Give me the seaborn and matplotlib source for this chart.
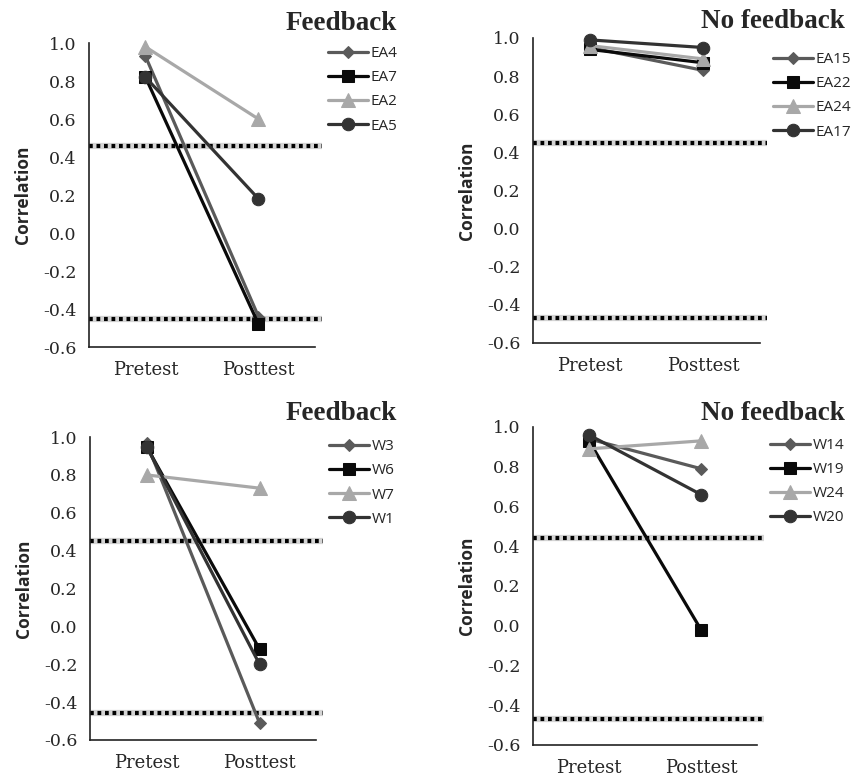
import pandas as pd
import matplotlib.pyplot as plt
import seaborn as sns

sns.set_style("white")
plt.rcParams["axes.unicode_minus"] = False

# Data
tests = ["Pretest", "Posttest"]

p1_names = ["EA4", "EA7", "EA2", "EA5"]
p1_pre = [0.93, 0.82, 0.98, 0.82]
p1_post = [-0.44, -0.48, 0.60, 0.18]
p1_limits = [0.46, -0.45]

p2_names = ["EA15", "EA22", "EA24", "EA17"]
p2_pre = [0.95, 0.94, 0.96, 0.99]
p2_post = [0.83, 0.87, 0.89, 0.95]
p2_limits = [0.45, -0.47]

p3_names = ["W3", "W6", "W7", "W1"]
p3_pre = [0.97, 0.95, 0.80, 0.95]
p3_post = [-0.51, -0.12, 0.73, -0.20]
p3_limits = [0.45, -0.46]

p4_names = ["W14", "W19", "W24", "W20"]
p4_pre = [0.94, 0.93, 0.89, 0.96]
p4_post = [0.79, -0.02, 0.93, 0.66]
p4_limits = [0.44, -0.47]

colors = ["#5a5a5a", "#0a0a0a", "#a8a8a8", "#333333"]
markers = ["D", "s", "^", "o"]
msizes = [6, 9, 10, 9]

panels = [
    ("Feedback", p1_names, p1_pre, p1_post, p1_limits, [0.1036, 0.5551, 0.2631, 0.3897], (0.462, 0.9705), (1.03, 1.01)),
    ("No feedback", p2_names, p2_pre, p2_post, p2_limits, [0.6205, 0.5603, 0.2643, 0.3910], (0.984, 0.972), (1.03, 0.974)),
    ("Feedback", p3_names, p3_pre, p3_post, p3_limits, [0.1048, 0.0513, 0.2631, 0.3884], (0.462, 0.4705), (1.03, 1.013)),
    ("No feedback", p4_names, p4_pre, p4_post, p4_limits, [0.6205, 0.0449, 0.2608, 0.4077], (0.984, 0.4705), (1.03, 0.985)),
]

fig = plt.figure(figsize=(8.59, 7.80), dpi=100)

for title, names, pre, post, limits, rect, tpos, lpos in panels:
    ax = fig.add_axes(rect)
    df = pd.DataFrame({
        "subject": names * 2,
        "test": [tests[0]] * len(names) + [tests[1]] * len(names),
        "r": pre + post,
    })

    # threshold lines (dotted, with a soft grey shadow)
    for lim in limits:
        ax.plot([-0.5, 1.56], [lim, lim], color="#d4d4d4", lw=4.5, solid_capstyle="butt",
                clip_on=False, zorder=1)
        ax.plot([-0.5, 1.56], [lim, lim], color="black", lw=3, linestyle=(0, (0.9, 0.9)),
                clip_on=False, zorder=2)

    for i, name in enumerate(names):
        sub = df[df["subject"] == name]
        sns.lineplot(data=sub, x="test", y="r", color=colors[i], marker=markers[i],
                     markersize=msizes[i], markeredgecolor=colors[i], linewidth=2.3,
                     label=name, ax=ax, clip_on=False, zorder=3 + i)

    ax.set_xlim(-0.5, 1.5)
    ax.set_ylim(-0.6, 1.0)
    ax.set_yticks([-0.6, -0.4, -0.2, 0.0, 0.2, 0.4, 0.6, 0.8, 1.0])
    ax.set_yticklabels([f"{v:.1f}" for v in ax.get_yticks()], family="DejaVu Serif", fontsize=12.5)
    ax.set_xticks([0, 1])
    ax.set_xticklabels(tests, family="DejaVu Serif", fontsize=13)
    ax.set_xticks([-0.5, 0.5, 1.5], minor=True)
    ax.tick_params(axis="x", which="major", length=0, pad=10)
    ax.tick_params(axis="x", which="minor", length=6, width=1.2, direction="out", color="#222222")
    ax.tick_params(axis="y", length=5, width=1.2, direction="out", color="#222222", pad=4)
    ax.set_xlabel("")
    ax.set_ylabel("Correlation", family="Open Sans", fontweight="bold", fontsize=12.5, labelpad=8)
    for side in ["top", "right"]:
        ax.spines[side].set_visible(False)
    for side in ["left", "bottom"]:
        ax.spines[side].set_color("#222222")
        ax.spines[side].set_linewidth(1.2)

    handles, labels = ax.get_legend_handles_labels()
    ax.legend(handles, labels, loc="upper left", bbox_to_anchor=lpos, frameon=False,
              prop={"family": "Open Sans", "size": 11}, handlelength=2.6, handletextpad=0.2,
              labelspacing=0.6, borderaxespad=0)

    fig.text(tpos[0], tpos[1], title, ha="right", va="center", family="Liberation Serif",
             fontweight="bold", fontsize=19.5)

plt.savefig("out.png", dpi=100)
